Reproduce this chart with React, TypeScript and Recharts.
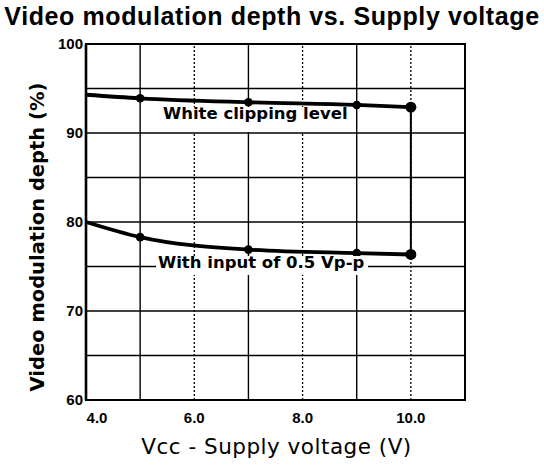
import React from 'react';
import { LineChart, Line, XAxis, YAxis, ReferenceLine, ReferenceArea } from 'recharts';

// Supply voltage (V) where the curves were read
const voltages = [4.0, 5.0, 7.0, 9.0, 10.0];
// Video modulation depth (%)
const whiteClipping = [94.3, 93.9, 93.45, 93.15, 92.9];
const input05Vpp = [80.0, 78.3, 76.9, 76.5, 76.35];

const xTicks = [4, 6, 8, 10];
const yTicks = [60, 70, 80, 90, 100];
const xGridSolid = [5, 7, 9];
const xGridDotted = [6, 8, 10];
const yGrid = [65, 70, 75, 80, 85, 90, 95];

const title = 'Video modulation depth vs. Supply voltage';
const xLabel = 'Vcc - Supply voltage (V)';
const yLabel = 'Video modulation depth (%)';
const upperNote = 'White clipping level';
const lowerNote = 'With input of 0.5 Vp-p';

const data = voltages.map((v, i) => ({ v, white: whiteClipping[i], input: input05Vpp[i] }));

const INK = '#000';
const ARIAL = '"Liberation Sans", Arial, sans-serif';
const DEJAVU = '"DejaVu Sans", sans-serif';

const renderDot = (props: any) => {
  const { cx, cy, index, dataKey } = props;
  const key = `${dataKey}-${index}`;
  if (index === 0) return <g key={key} />;
  const r = index === voltages.length - 1 ? 5.5 : 4.3;
  return <circle key={key} cx={cx} cy={cy} r={r} fill={INK} stroke="none" />;
};

const XTick = (props: any) => {
  const { x, y, payload } = props;
  const dx = payload.value === 4 ? 11 : 0;
  return (
    <text
      x={x + dx}
      y={y}
      dy="0.71em"
      textAnchor="middle"
      fontFamily={ARIAL}
      fontWeight="bold"
      fontSize={15}
      fill={INK}
    >
      {Number(payload.value).toFixed(1)}
    </text>
  );
};

export default function App() {
  return (
    <div style={{ position: 'absolute', left: 0, top: 0, width: 544, height: 468, background: '#fff', overflow: 'hidden' }}>
      <LineChart width={544} height={468} data={data} margin={{ top: 44, right: 79, left: 0, bottom: 38 }}>
        <XAxis
          type="number"
          dataKey="v"
          domain={[4, 11]}
          ticks={xTicks}
          axisLine={false}
          tickLine={false}
          tickSize={6}
          tickMargin={6}
          height={30}
          tick={<XTick />}
          interval={0}
        />
        <YAxis
          type="number"
          domain={[60, 100]}
          ticks={yTicks}
          axisLine={false}
          tickLine={false}
          tickSize={1}
          tickMargin={2}
          width={86}
          interval={0}
          tick={{ fill: INK, fontSize: 15, fontWeight: 'bold', fontFamily: ARIAL }}
        />
        {yGrid.map((y) => (
          <ReferenceLine key={`h${y}`} y={y} stroke={INK} strokeWidth={1.4} />
        ))}
        {xGridSolid.map((x) => (
          <ReferenceLine key={`vs${x}`} x={x} stroke={INK} strokeWidth={1.4} />
        ))}
        {xGridDotted.map((x) => (
          <ReferenceLine key={`vd${x}`} x={x} stroke={INK} strokeWidth={1.3} strokeDasharray="2 2" />
        ))}
        <ReferenceLine
          segment={[
            { x: voltages[voltages.length - 1], y: whiteClipping[whiteClipping.length - 1] },
            { x: voltages[voltages.length - 1], y: input05Vpp[input05Vpp.length - 1] },
          ]}
          stroke={INK}
          strokeWidth={2}
        />
        <ReferenceArea x1={4} x2={11} y1={60} y2={100} fill="none" stroke={INK} strokeWidth={2} />
        <ReferenceLine x={4} stroke={INK} strokeWidth={2.6} />
        <Line
          type="monotone"
          dataKey="white"
          stroke={INK}
          strokeWidth={3.8}
          dot={renderDot}
          activeDot={false}
          isAnimationActive={false}
        />
        <Line
          type="monotone"
          dataKey="input"
          stroke={INK}
          strokeWidth={3.8}
          dot={renderDot}
          activeDot={false}
          isAnimationActive={false}
        />
      </LineChart>

      <div
        style={{
          position: 'absolute',
          left: 0,
          top: 4,
          width: 544,
          textAlign: 'center',
          fontFamily: ARIAL,
          fontWeight: 'bold',
          fontSize: 25,
          lineHeight: '25px',
          letterSpacing: 0.6,
          color: INK,
          whiteSpace: 'nowrap',
        }}
      >
        {title}
      </div>

      <div
        style={{
          position: 'absolute',
          left: 37.5,
          top: 237,
          transform: 'translate(-50%, -50%) rotate(-90deg)',
          fontFamily: DEJAVU,
          fontWeight: 'bold',
          fontSize: 19.5,
          lineHeight: '20px',
          color: INK,
          whiteSpace: 'nowrap',
        }}
      >
        {yLabel}
      </div>

      <div
        style={{
          position: 'absolute',
          left: 0,
          top: 436,
          width: 553,
          textAlign: 'center',
          fontFamily: DEJAVU,
          fontSize: 21.5,
          lineHeight: '21px',
          letterSpacing: 0.5,
          color: INK,
          whiteSpace: 'nowrap',
        }}
      >
        {xLabel}
      </div>

      <div
        style={{
          position: 'absolute',
          left: 160,
          top: 107,
          width: 186,
          height: 25,
          background: '#fff',
          boxSizing: 'border-box',
          paddingLeft: 3,
          fontFamily: DEJAVU,
          fontWeight: 'bold',
          fontSize: 16.5,
          lineHeight: '14.6px',
          color: INK,
          whiteSpace: 'nowrap',
        }}
      >
        {upperNote}
      </div>

      <div
        style={{
          position: 'absolute',
          left: 156,
          top: 256,
          width: 212,
          height: 19,
          background: '#fff',
          boxSizing: 'border-box',
          paddingLeft: 2,
          fontFamily: DEJAVU,
          fontWeight: 'bold',
          fontSize: 16.5,
          lineHeight: '13.2px',
          color: INK,
          whiteSpace: 'nowrap',
        }}
      >
        {lowerNote}
      </div>
    </div>
  );
}
